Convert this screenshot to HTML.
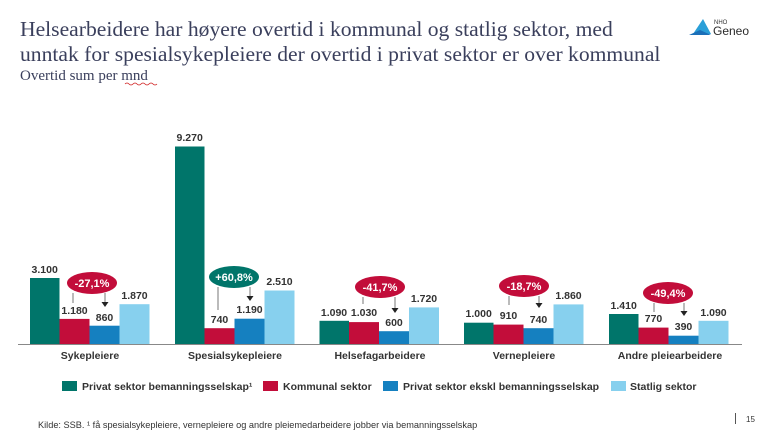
<!DOCTYPE html>
<html><head><meta charset="utf-8"><style>
body{margin:0;background:#fff;}
svg{display:block;font-family:"Liberation Sans",Arial,sans-serif;}
</style></head><body>
<svg width="770" height="433" viewBox="0 0 770 433" xmlns="http://www.w3.org/2000/svg">
<text x="20" y="36" font-family="Liberation Serif,serif" font-size="21.6" fill="#3a3f5c">Helsearbeidere har høyere overtid i kommunal og statlig sektor, med</text>
<text x="20" y="61" font-family="Liberation Serif,serif" font-size="21.6" fill="#3a3f5c">unntak for spesialsykepleiere der overtid i privat sektor er over kommunal</text>
<text x="20" y="80" font-family="Liberation Serif,serif" font-size="15" fill="#3a3f5c">Overtid sum per mnd</text>
<path d="M125 84 q2 -2 4 0 q2 2 4 0 q2 -2 4 0 q2 2 4 0 q2 -2 4 0 q2 2 4 0 q2 -2 4 0 q2 2 4 0" stroke="#d02020" stroke-width="0.8" fill="none"/>
<!-- logo -->
<path d="M693 34 L703 19 L711 34 Z" fill="#2a9fd8"/>
<path d="M689 35 L700 30 L711 35 Z" fill="#1b6fb8"/>
<text x="714" y="24" font-size="6" fill="#333">NHO</text>
<text x="713" y="35" font-size="12" fill="#2a2a2a">Geneo</text>
<g font-size="10.5" font-weight="bold" fill="#333" text-anchor="middle">
<!-- G1 -->
<rect x="30" y="278" width="29.5" height="66" fill="#00756a"/>
<rect x="59.5" y="318.9" width="30" height="25.1" fill="#c20d3a"/>
<rect x="89.5" y="325.7" width="30" height="18.3" fill="#1580c0"/>
<rect x="119.5" y="304.2" width="30" height="39.8" fill="#87d0ee"/>
<text x="44.7" y="273">3.100</text><text x="74.5" y="314">1.180</text><text x="104.5" y="321">860</text><text x="134.5" y="299">1.870</text>
<!-- G2 -->
<rect x="175" y="146.5" width="29.5" height="197.5" fill="#00756a"/>
<rect x="204.5" y="328.2" width="30" height="15.8" fill="#c20d3a"/>
<rect x="234.5" y="318.7" width="30" height="25.3" fill="#1580c0"/>
<rect x="264.5" y="290.5" width="30" height="53.5" fill="#87d0ee"/>
<text x="189.7" y="141">9.270</text><text x="219.5" y="323">740</text><text x="249.5" y="313">1.190</text><text x="279.5" y="285">2.510</text>
<!-- G3 -->
<rect x="319.5" y="320.8" width="29.5" height="23.2" fill="#00756a"/>
<rect x="349" y="322.1" width="30" height="21.9" fill="#c20d3a"/>
<rect x="379" y="331.2" width="30" height="12.8" fill="#1580c0"/>
<rect x="409" y="307.4" width="30" height="36.6" fill="#87d0ee"/>
<text x="334" y="316">1.090</text><text x="364" y="316">1.030</text><text x="394" y="326">600</text><text x="424" y="302">1.720</text>
<!-- G4 -->
<rect x="464" y="322.7" width="29.5" height="21.3" fill="#00756a"/>
<rect x="493.5" y="324.6" width="30" height="19.4" fill="#c20d3a"/>
<rect x="523.5" y="328.2" width="30" height="15.8" fill="#1580c0"/>
<rect x="553.5" y="304.4" width="30" height="39.6" fill="#87d0ee"/>
<text x="478.7" y="317">1.000</text><text x="508.5" y="319">910</text><text x="538.5" y="323">740</text><text x="568.5" y="299">1.860</text>
<!-- G5 -->
<rect x="609" y="314" width="29.5" height="30" fill="#00756a"/>
<rect x="638.5" y="327.6" width="30" height="16.4" fill="#c20d3a"/>
<rect x="668.5" y="335.7" width="30" height="8.3" fill="#1580c0"/>
<rect x="698.5" y="320.8" width="30" height="23.2" fill="#87d0ee"/>
<text x="623.7" y="309">1.410</text><text x="653.5" y="322">770</text><text x="683.5" y="330">390</text><text x="713.5" y="316">1.090</text>
</g>
<line x1="18" y1="344.5" x2="742" y2="344.5" stroke="#888" stroke-width="1"/>
<g font-size="10.5" font-weight="bold" fill="#333" text-anchor="middle">
<text x="90" y="359">Sykepleiere</text><text x="235" y="359">Spesialsykepleiere</text><text x="380" y="359">Helsefagarbeidere</text><text x="524" y="359">Vernepleiere</text><text x="670" y="359">Andre pleiearbeidere</text>
</g>
<!-- bubbles -->
<g stroke="#555" stroke-width="0.8" fill="#222">
<line x1="73" y1="293" x2="73" y2="303"/><line x1="105" y1="293" x2="105" y2="302"/><path d="M101.5 302 L108.5 302 L105 307 Z" stroke="none"/>
<line x1="218" y1="287" x2="218" y2="310"/><line x1="250" y1="287" x2="250" y2="296"/><path d="M246.5 296 L253.5 296 L250 301 Z" stroke="none"/>
<line x1="363" y1="297" x2="363" y2="304"/><line x1="395" y1="297" x2="395" y2="308"/><path d="M391.5 308 L398.5 308 L395 313 Z" stroke="none"/>
<line x1="509" y1="296" x2="509" y2="305"/><line x1="539" y1="296" x2="539" y2="303"/><path d="M535.5 303 L542.5 303 L539 308 Z" stroke="none"/>
<line x1="654" y1="303" x2="654" y2="312"/><line x1="684" y1="303" x2="684" y2="311"/><path d="M680.5 311 L687.5 311 L684 316 Z" stroke="none"/>
</g>
<g font-size="11" font-weight="bold" fill="#fff" text-anchor="middle">
<ellipse cx="92" cy="283" rx="25" ry="11" fill="#c20d3a"/><text x="92" y="287">-27,1%</text>
<ellipse cx="234" cy="277" rx="25" ry="11" fill="#00756a"/><text x="234" y="281">+60,8%</text>
<ellipse cx="380" cy="287" rx="25" ry="11" fill="#c20d3a"/><text x="380" y="291">-41,7%</text>
<ellipse cx="524" cy="286" rx="25" ry="11" fill="#c20d3a"/><text x="524" y="290">-18,7%</text>
<ellipse cx="668" cy="293" rx="25" ry="11" fill="#c20d3a"/><text x="668" y="297">-49,4%</text>
</g>
<!-- legend -->
<g font-size="10.5" font-weight="bold" fill="#333">
<rect x="62" y="381" width="15" height="10" fill="#00756a"/><text x="82" y="390">Privat sektor bemanningsselskap¹</text>
<rect x="263" y="381" width="15" height="10" fill="#c20d3a"/><text x="283" y="390">Kommunal sektor</text>
<rect x="383" y="381" width="15" height="10" fill="#1580c0"/><text x="403" y="390">Privat sektor ekskl bemanningsselskap</text>
<rect x="611" y="381" width="15" height="10" fill="#87d0ee"/><text x="630" y="390">Statlig sektor</text>
</g>
<text x="38" y="428" font-size="9.2" fill="#333">Kilde: SSB. ¹ få spesialsykepleiere, vernepleiere og andre pleiemedarbeidere jobber via bemanningsselskap</text>
<line x1="735.5" y1="413" x2="735.5" y2="424" stroke="#555" stroke-width="1"/>
<text x="746" y="422" font-size="8" fill="#333">15</text>
</svg>
</body></html>
